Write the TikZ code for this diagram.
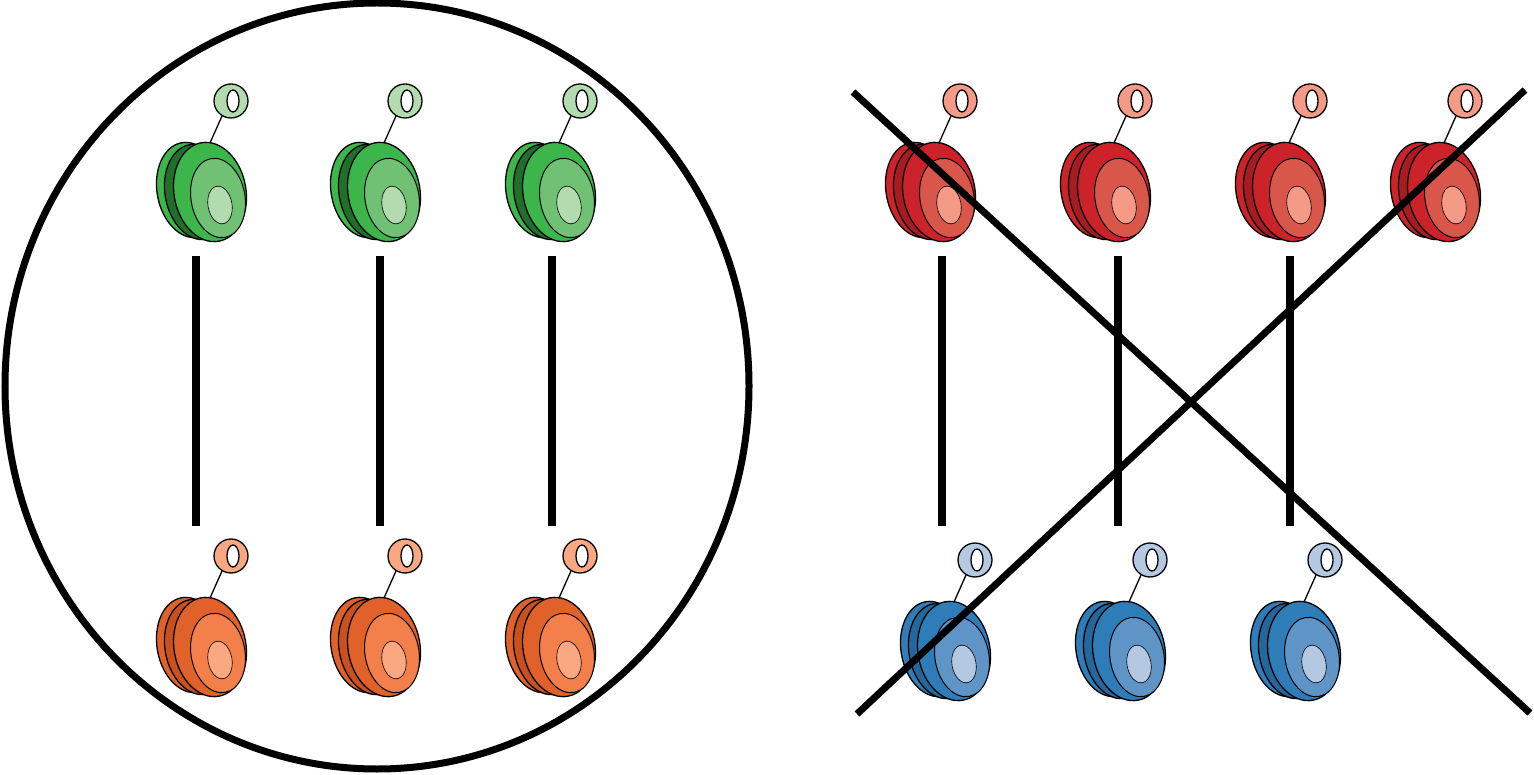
\documentclass[tikz,border=0pt]{standalone}
\usetikzlibrary{calc}
\definecolor{gA}{HTML}{2E9E3E}\definecolor{gB}{HTML}{3CB54A}\definecolor{gC}{HTML}{70C174}\definecolor{gD}{HTML}{B2DCB0}
\definecolor{oA}{HTML}{C9501F}\definecolor{oB}{HTML}{E0612A}\definecolor{oC}{HTML}{F37F4A}\definecolor{oD}{HTML}{F9A882}
\definecolor{rA}{HTML}{A81B21}\definecolor{rB}{HTML}{CC2229}\definecolor{rC}{HTML}{D9574A}\definecolor{rD}{HTML}{F59A86}
\definecolor{bA}{HTML}{25679A}\definecolor{bB}{HTML}{2F7DB8}\definecolor{bC}{HTML}{5E94C6}\definecolor{bD}{HTML}{B5C8E2}
\tikzset{
  yoyo/.pic={
    \draw[fill=\yA!100, line width=1.3pt] (-20,-2) ellipse[x radius=33, y radius=48, rotate=10];
    \draw[fill=\yZ, line width=1.3pt] (-12,0) ellipse[x radius=33, y radius=48, rotate=10];
    \draw[fill=\yA, line width=1.3pt] (0,0) ellipse[x radius=36, y radius=50, rotate=10];
    \draw[fill=\yB, line width=1pt] (8,6) ellipse[x radius=27, y radius=40, rotate=10];
    \draw[fill=\yC, line width=0.6pt] (10,13) ellipse[x radius=12, y radius=19, rotate=10];
    \draw[line width=1.3pt] (0,-49) -- (12,-76);
    \draw[fill=\yC, line width=1.3pt] (21,-91) circle[radius=17];
    \draw[fill=white, line width=1.3pt] (23,-91) ellipse[x radius=6, y radius=11];
  },
  bar/.style={line width=8pt},
}
\newcommand\yocol[4]{\def\yZ{#1}\def\yA{#2}\def\yB{#3}\def\yC{#4}}
\begin{document}
\begin{tikzpicture}[x=1pt,y=-1pt]
\useasboundingbox (0,0) rectangle (1534,775);
\draw[line width=7pt] (377,386) ellipse[x radius=372, y radius=383];
% compatible pairs
\foreach \x/\b in {210/196,384/380,559/552}{
  \yocol{gA!70!black}{gB}{gC}{gD}
  \pic at (\x,192) {yoyo};
  \yocol{oA}{oB}{oC}{oD}
  \pic at (\x,647) {yoyo};
  \draw[bar] (\b,256) -- (\b,526);
}
% incompatible
\foreach \x in {939,1114,1289,1444}{
  \yocol{rA}{rB}{rC}{rD}
  \pic at (\x,192) {yoyo};
}
\foreach \x/\b in {954/942,1129/1118,1304/1290}{
  \yocol{bA}{bB}{bC}{bD}
  \pic at (\x,651) {yoyo};
  \draw[bar] (\b,256) -- (\b,526);
}
\coordinate (c1) at (853,92); \coordinate (c2) at (1530,713);
\coordinate (c3) at (857,714); \coordinate (c4) at (1525,90);
\draw[line width=7pt] (c1) -- (c2);
\draw[line width=7pt] (c3) -- (c4);
\end{tikzpicture}
\end{document}
